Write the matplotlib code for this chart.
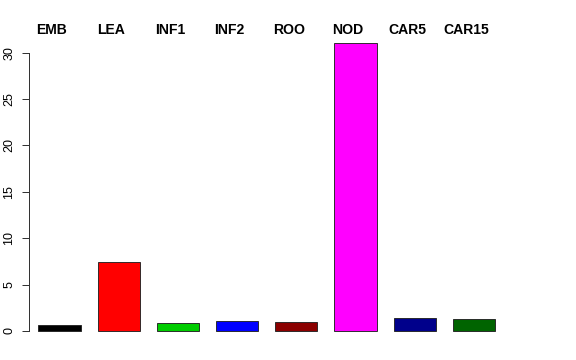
import matplotlib
matplotlib.use("Agg")
import matplotlib.pyplot as plt
from matplotlib.transforms import blended_transform_factory

categories = ["EMB", "LEA", "INF1", "INF2", "ROO", "NOD", "CAR5", "CAR15"]
values = [0.68, 7.4, 0.86, 1.1, 0.97, 31.0, 1.4, 1.29]
colors = ["#000000", "#FF0000", "#00CD00", "#0000FF", "#8B0000", "#FF00FF", "#00008B", "#006400"]
yticks = [0, 5, 10, 15, 20, 25, 30]

plt.rcParams['font.family'] = ['Liberation Sans', 'DejaVu Sans']

W, H = 576, 360
fig = plt.figure(figsize=(W / 72, H / 72), dpi=72)
left_px, right_px = 29, 547
bottom_px, top_px = 342.5, 31.8
ax = fig.add_axes([left_px / W, 1 - bottom_px / H, (right_px - left_px) / W, (bottom_px - top_px) / H])

x = list(range(len(categories)))
ax.bar(x, values, width=0.71, color=colors, edgecolor="#222222", linewidth=0.9)

pitch = 59.2
x0 = 59.5
ax.set_xlim((left_px - x0) / pitch, (right_px - x0) / pitch)
ppu = 9.28
ax.set_ylim((331 - bottom_px) / ppu, (331 - top_px) / ppu)

for s in ["top", "right", "bottom"]:
    ax.spines[s].set_visible(False)
ax.spines["left"].set_bounds(0, 30)
ax.spines["left"].set_color("#333333")
ax.spines["left"].set_linewidth(1.0)
ax.set_xticks([])
ax.set_yticks(yticks)
ax.set_yticklabels([str(t) for t in yticks], rotation=90, va="center", fontsize=12.5)
ax.tick_params(axis="y", length=7, width=1.0, color="#333333", pad=6.5, direction="out")

trans = blended_transform_factory(ax.transData, fig.transFigure)
for i, c in enumerate(categories):
    ax.text(i - 0.127, 1 - 30 / H, c, transform=trans, ha="center", va="center",
            fontsize=14, fontweight="bold", clip_on=False)

fig.savefig("out.png", dpi=72)
